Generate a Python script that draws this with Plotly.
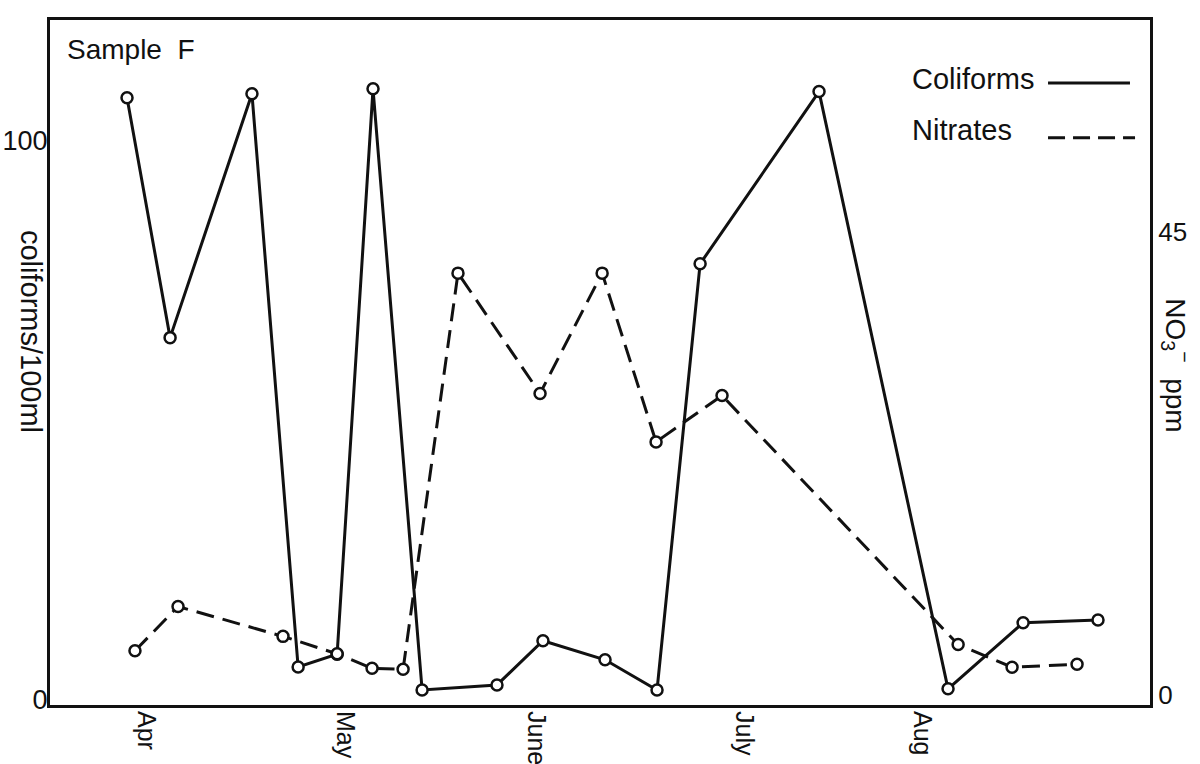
import plotly.graph_objects as go

# ---- data (x in "month units": 0 = Apr label, 1 ~ May label, ...) ----
month_labels = ["Apr", "May", "June", "July", "Aug"]
month_pos = [0.0, 1.026, 2.01, 3.082, 4.0]

coli_x = [-0.098, 0.124, 0.546, 0.784, 0.985, 1.170, 1.423, 1.809, 2.046,
          2.366, 2.634, 2.856, 3.469, 4.134, 4.521, 4.907]
coli_y = [107.7, 64.8, 108.4, 5.9, 8.2, 109.3, 1.8, 2.7, 10.6,
          7.2, 1.8, 78.0, 108.8, 2.0, 13.8, 14.3]

nitr_x = [-0.057, 0.165, 0.706, 0.985, 1.165, 1.325, 1.608, 2.031, 2.351,
          2.629, 2.969, 4.186, 4.464, 4.799]
nitr_y = [4.3, 8.6, 5.7, 4.0, 2.6, 2.5, 41.0, 29.3, 41.0,
          24.6, 29.1, 4.9, 2.7, 3.0]

left_ticks = [0, 100]
right_ticks = [0, 45]

# ---- styles ----
BLACK = "#111111"
FONT = "Liberation Sans, Arial, Helvetica, sans-serif"
marker = dict(symbol="circle", size=11, color="white",
              line=dict(color=BLACK, width=2.5))

fig = go.Figure()
fig.add_trace(go.Scatter(x=coli_x, y=coli_y, mode="lines+markers", name="Coliforms",
                         line=dict(color=BLACK, width=3), marker=marker,
                         yaxis="y"))
fig.add_trace(go.Scatter(x=nitr_x, y=nitr_y, mode="lines+markers", name="Nitrates",
                         line=dict(color=BLACK, width=3, dash="18px,9px"),
                         marker=marker, yaxis="y2"))

fig.update_layout(
    width=1200, height=764,
    margin=dict(l=50, r=50, t=20, b=59),
    paper_bgcolor="white", plot_bgcolor="white",
    showlegend=False,
    font=dict(family=FONT, color=BLACK),
    xaxis=dict(range=[-0.495, 5.175], tickvals=month_pos, ticktext=month_labels,
               tickangle=90, showgrid=False, zeroline=False, automargin=False,
               showline=True, linecolor=BLACK, linewidth=3, mirror=True,
               ticks="", ticklen=0, ticklabelstandoff=-2,
               tickfont=dict(family=FONT, size=25, color=BLACK)),
    yaxis=dict(range=[-0.89, 121.6], tickvals=left_ticks, showgrid=False,
               zeroline=False, showline=True, linecolor=BLACK, linewidth=3,
               ticks="", ticklen=0, ticklabelstandoff=-6, automargin=False,
               tickfont=dict(family=FONT, size=27, color=BLACK)),
    yaxis2=dict(range=[-0.97, 65.6], tickvals=right_ticks, overlaying="y",
                side="right", showgrid=False, zeroline=False, showline=True,
                linecolor=BLACK, linewidth=3, ticks="", ticklen=0,
                ticklabelstandoff=0, automargin=False,
                tickfont=dict(family=FONT, size=26, color=BLACK)),
)

annotations = [
    dict(text="Sample\u00a0\u00a0F", xref="paper", yref="paper", x=0.0136, y=0.957,
         xanchor="left", yanchor="middle", showarrow=False,
         font=dict(family=FONT, size=28, color=BLACK)),
    dict(text="Coliforms", xref="paper", yref="paper", x=0.7818, y=0.914,
         xanchor="left", yanchor="middle", showarrow=False,
         font=dict(family=FONT, size=29, color=BLACK)),
    dict(text="Nitrates", xref="paper", yref="paper", x=0.7818, y=0.840,
         xanchor="left", yanchor="middle", showarrow=False,
         font=dict(family=FONT, size=29, color=BLACK)),
    dict(text="coliforms/100ml", xref="paper", yref="paper", x=0, y=0.546,
         xshift=-19, xanchor="center", yanchor="middle", textangle=90,
         showarrow=False, font=dict(family=FONT, size=29, color=BLACK)),
    dict(text="NO<sub>3</sub><sup>\u2212</sup>\u00a0\u00a0ppm", xref="paper",
         yref="paper", x=1, y=0.496, xshift=26, xanchor="center",
         yanchor="middle", textangle=90, showarrow=False,
         font=dict(family=FONT, size=28, color=BLACK)),
]
fig.update_layout(annotations=annotations)

shapes = [
    dict(type="line", xref="paper", yref="paper", x0=0.9073, x1=0.9818,
         y0=0.908, y1=0.908, line=dict(color=BLACK, width=3)),
    dict(type="line", xref="paper", yref="paper", x0=0.9073, x1=0.9864,
         y0=0.828, y1=0.828, line=dict(color=BLACK, width=3, dash="17px,8px")),
]
fig.update_layout(shapes=shapes)

fig.write_html("out.html")
